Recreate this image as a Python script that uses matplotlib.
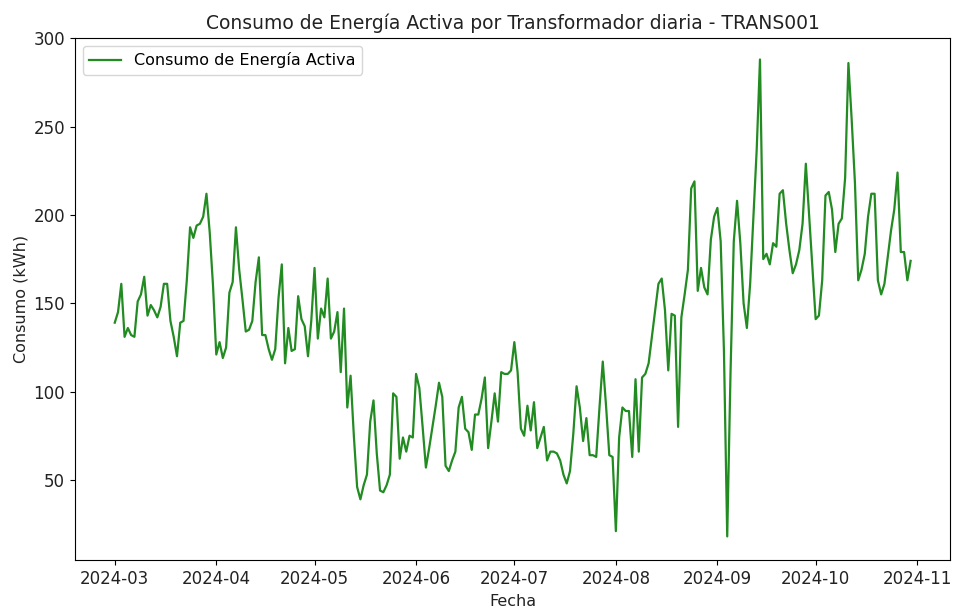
import numpy as np
import pandas as pd
import matplotlib
matplotlib.use("Agg")
import matplotlib.pyplot as plt

# consumo diario (2024-03-01 .. 2024-10-30)
marzo = [139, 145, 161, 131, 136, 132, 131, 151, 155, 165, 143, 149, 146, 142, 148,
         161, 161, 140, 131, 120, 139, 140, 163, 193, 187, 194, 195, 199, 212, 190, 160]
abril_mayo = [121, 128, 119, 125, 156, 162, 193, 169, 152, 134, 135, 140, 162, 176, 132,
              132, 124, 118, 124, 153, 172, 116, 136, 123, 124, 154, 141, 137, 120, 140,
              170, 130, 147, 142, 164, 130, 134, 145, 111, 147, 91, 109, 75, 46, 39,
              47, 53, 83, 95, 65, 44, 43, 47, 53, 99, 97, 62, 74, 66, 75, 74]
junio_julio = [110, 102, 80, 57, 68, 80, 92, 105, 97, 58, 55, 61, 66, 91, 97,
               79, 77, 67, 87, 87, 96, 108, 68, 83, 99, 83, 111, 110, 110, 112,
               128, 111, 79, 75, 92, 78, 94, 68, 74, 80, 61, 66, 66, 65, 61,
               53, 48, 55, 76, 103, 91, 72, 85, 64, 64, 63, 91, 117, 92, 64, 63]
agosto_sept = [21, 74, 91, 89, 89, 63, 107, 66, 108, 110, 116, 131, 146, 161, 164,
               146, 112, 144, 143, 80, 142, 155, 169, 215, 219, 157, 170, 159, 155, 186,
               199, 204, 185, 123, 18, 110, 185, 208, 184, 150, 136, 161, 199, 237, 288,
               175, 178, 172, 184, 182, 212, 214, 195, 180, 167, 172, 180, 195, 229, 200, 170]
octubre = [141, 143, 163, 211, 213, 203, 179, 195, 198, 221, 286, 254, 218, 163, 169,
           178, 199, 212, 212, 163, 155, 161, 176, 191, 203, 224, 179, 179, 163, 174]

consumo = marzo + abril_mayo + junio_julio + agosto_sept + octubre
fechas = pd.date_range("2024-03-01", periods=len(consumo), freq="D")

fig = plt.figure(figsize=(9.61, 6.09), dpi=100)
ax = fig.add_axes([0.078, 0.08, 0.911, 0.858])
ax.plot(fechas, consumo, color="forestgreen", linewidth=1.6,
        label="Consumo de Energía Activa")
ax.set_ylim(4.5, 300.3)
ax.set_title("Consumo de Energía Activa por Transformador diaria - TRANS001",
             fontsize=13.5, color="#222222")
ax.set_xlabel("Fecha", fontsize=11.5, color="#222222")
ax.set_ylabel("Consumo (kWh)", fontsize=11.5, color="#222222")
ax.tick_params(labelsize=12, labelcolor="#222222")
ax.legend(loc="upper left", fontsize=11.5)

fig.savefig("out.png", dpi=100)
